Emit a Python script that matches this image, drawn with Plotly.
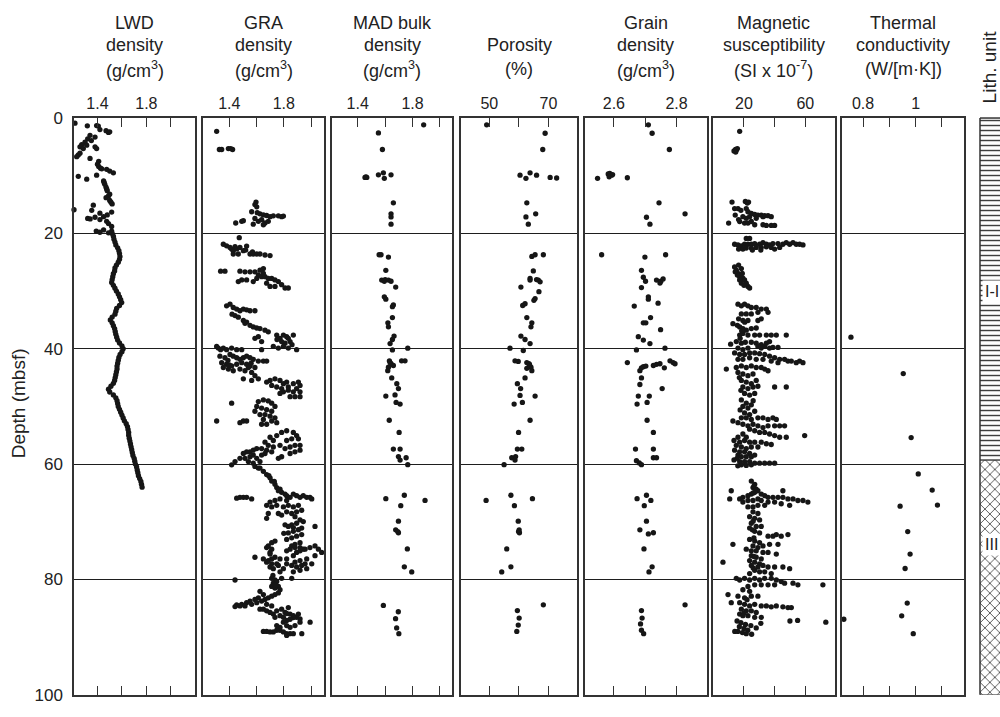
import plotly.graph_objects as go

W, H = 1000, 717
FONT = "Liberation Sans"
INK = "#222222"
DOT = "#161616"

# ---------------- data: (depth mbsf, value) ----------------
LWD = [
    (0.9, 1.216), (1.35, 1.317), (1.3, 1.393), (1.4, 1.407), (2.0, 1.42), (2.2, 1.47), (2.5, 1.49), (2.4, 1.50),
    (3.0, 1.339), (3.6, 1.32), (3.3, 1.38), (3.9, 1.35), (4.2, 1.298), (4.6, 1.271), (5.0, 1.257), (5.3, 1.284),
    (4.7, 1.312), (5.0, 1.38), (5.3, 1.393), (6.4, 1.243), (6.1, 1.257), (6.7, 1.23), (7.0, 1.339), (7.5, 1.41),
    (8.0, 1.40), (8.4, 1.41), (8.7, 1.425), (8.8, 1.435), (8.9, 1.475), (9.2, 1.50), (9.5, 1.53), (10.1, 1.243),
    (10.6, 1.312), (9.9, 1.393), (10.9, 1.45), (11.2, 1.455), (11.5, 1.46), (12.0, 1.47), (12.3, 1.475), (12.6, 1.48),
    (13.2, 1.50), (13.5, 1.49), (13.8, 1.47), (14.3, 1.50), (14.6, 1.51), (14.9, 1.52), (15.9, 1.208), (15.1, 1.366),
    (16.0, 1.353), (16.5, 1.42), (17.1, 1.45), (16.8, 1.48), (16.3, 1.516), (17.4, 1.32), (17.5, 1.34), (17.2, 1.38),
    (17.6, 1.42), (17.9, 1.475), (18.3, 1.49), (18.8, 1.516), (19.6, 1.39), (19.8, 1.42), (19.4, 1.45), (19.9, 1.49),
    (19.6, 1.516),
    (20.0, 1.52), (20.5, 1.53), (21.0, 1.535), (21.5, 1.543), (22.0, 1.55), (22.5, 1.565), (23.0, 1.575), (23.5, 1.58),
    (24.0, 1.584), (24.5, 1.58), (25.0, 1.57), (25.5, 1.555), (26.0, 1.543), (26.5, 1.54), (27.0, 1.53), (27.5, 1.525),
    (28.0, 1.52), (28.5, 1.516), (29.0, 1.53), (29.5, 1.543), (30.0, 1.555), (30.5, 1.57), (31.0, 1.58), (31.5, 1.59),
    (32.0, 1.598), (32.5, 1.58), (33.0, 1.557), (33.5, 1.55), (34.0, 1.543), (34.5, 1.52), (35.0, 1.505), (35.5, 1.52),
    (36.0, 1.53), (36.5, 1.54), (37.0, 1.545), (37.5, 1.55), (38.0, 1.557), (38.5, 1.565), (39.0, 1.58), (39.5, 1.60),
    (40.0, 1.61), (40.5, 1.60), (41.0, 1.585), (41.5, 1.575), (42.0, 1.57), (42.5, 1.565), (43.0, 1.56), (43.5, 1.56),
    (44.0, 1.555), (44.5, 1.55), (45.0, 1.545), (45.5, 1.54), (46.0, 1.53), (46.5, 1.51), (47.0, 1.49), (47.5, 1.50),
    (48.0, 1.53), (48.5, 1.55), (49.0, 1.56), (49.5, 1.565), (50.0, 1.57), (50.5, 1.58), (51.0, 1.59), (51.5, 1.60),
    (52.0, 1.61), (52.5, 1.62), (53.0, 1.635), (53.5, 1.645), (54.0, 1.65), (54.5, 1.655), (55.0, 1.655), (55.5, 1.66),
    (56.0, 1.665), (56.5, 1.67), (57.0, 1.675), (57.5, 1.68), (58.0, 1.685), (58.5, 1.69), (59.0, 1.70), (59.5, 1.705),
    (60.0, 1.71), (60.5, 1.72), (61.0, 1.725), (61.5, 1.73), (62.0, 1.735), (62.5, 1.745), (63.0, 1.755), (63.5, 1.76),
    (64.0, 1.765),
]

GRA = [
    (2.31, 1.307), (5.46, 1.327), (5.46, 1.344), (5.3, 1.393), (5.3, 1.41), (5.46, 1.424),
    (14.57, 1.596), (15.0, 1.588), (15.4, 1.601), (16.25, 1.564), (16.4, 1.605), (16.6, 1.625), (16.8, 1.65),
    (16.9, 1.674), (17.1, 1.699), (16.95, 1.723), (16.95, 1.76), (17.1, 1.784), (17.0, 1.797), (17.9, 1.686),
    (18.2, 1.662), (18.5, 1.65), (17.9, 1.613), (18.4, 1.576), (17.9, 1.491), (18.2, 1.447), (17.8, 1.503),
    (17.4, 1.588), (17.6, 1.637),
    (20.75, 1.473), (21.88, 1.356), (22.16, 1.38), (22.44, 1.405), (22.72, 1.417), (23.0, 1.429), (22.3, 1.442),
    (22.7, 1.454), (22.44, 1.478), (23.0, 1.503), (22.2, 1.527), (23.57, 1.552), (23.57, 1.576), (23.57, 1.601),
    (23.57, 1.625), (23.75, 1.662), (23.85, 1.699), (23.57, 1.429), (23.57, 1.466), (22.9, 1.52), (23.2, 1.57),
    (26.55, 1.336), (26.55, 1.368), (26.55, 1.478), (26.66, 1.515), (26.66, 1.552), (26.66, 1.588), (26.38, 1.625),
    (26.1, 1.65), (27.2, 1.613), (27.5, 1.637), (27.5, 1.662), (27.8, 1.686), (27.8, 1.711), (28.07, 1.735),
    (28.35, 1.76), (28.9, 1.784), (29.47, 1.809), (29.47, 1.833), (28.07, 1.527), (28.07, 1.491), (28.35, 1.466),
    (28.35, 1.576), (27.8, 1.601), (28.63, 1.674), (29.19, 1.699), (29.19, 1.735), (26.94, 1.65),
    (32.56, 1.38), (32.28, 1.405), (32.85, 1.429), (33.13, 1.454), (33.41, 1.478), (33.13, 1.503), (33.25, 1.527),
    (33.41, 1.552), (33.41, 1.588), (34.25, 1.442), (34.53, 1.466), (35.1, 1.503), (35.38, 1.527), (35.94, 1.552),
    (36.22, 1.576), (36.4, 1.601), (36.5, 1.625), (36.78, 1.662), (37.06, 1.686), (35.6, 1.515), (34.0, 1.42),
    (37.63, 1.748), (38.19, 1.772), (37.63, 1.797), (37.9, 1.821), (38.75, 1.846), (39.03, 1.809), (38.75, 1.784),
    (37.63, 1.87), (38.19, 1.833), (39.6, 1.797), (39.88, 1.833), (40.16, 1.894), (39.88, 1.76), (39.6, 1.723),
    (40.16, 1.637), (38.19, 1.588), (37.9, 1.613), (38.75, 1.637), (39.3, 1.86), (38.4, 1.75),
    (39.88, 1.319), (40.16, 1.336), (39.88, 1.356), (40.16, 1.38), (39.88, 1.417), (40.16, 1.454), (40.16, 1.491),
    (39.6, 1.307),
    (41.28, 1.331), (41.56, 1.368), (41.0, 1.405), (41.28, 1.429), (41.56, 1.454), (41.84, 1.478), (41.56, 1.503),
    (41.28, 1.527), (41.56, 1.552), (41.84, 1.576), (42.13, 1.613), (42.13, 1.65), (42.13, 1.674), (42.41, 1.344),
    (42.69, 1.38), (42.97, 1.417), (42.69, 1.454), (42.41, 1.491), (42.69, 1.527), (42.97, 1.552), (43.25, 1.588),
    (43.25, 1.356), (43.53, 1.393), (43.81, 1.429), (43.53, 1.478), (43.81, 1.515), (43.25, 1.54), (44.1, 1.564),
    (44.66, 1.588), (45.22, 1.613), (45.22, 1.503), (45.5, 1.564), (42.0, 1.39), (42.8, 1.40), (42.5, 1.56),
    (45.78, 1.674), (45.5, 1.699), (45.22, 1.735), (45.5, 1.772), (46.06, 1.797), (45.78, 1.821), (46.35, 1.711),
    (46.63, 1.748), (46.91, 1.784), (46.63, 1.833), (46.06, 1.87), (45.78, 1.907), (46.35, 1.919), (46.91, 1.894),
    (47.47, 1.87), (47.19, 1.833), (47.47, 1.797), (48.31, 1.846), (48.31, 1.882), (48.31, 1.919), (47.47, 1.919),
    (47.75, 1.772),
    (49.44, 1.417), (52.53, 1.307), (52.53, 1.503),
    (49.16, 1.613), (48.88, 1.65), (49.05, 1.686), (49.44, 1.711), (50.0, 1.735), (50.0, 1.601), (50.28, 1.637),
    (50.56, 1.674), (50.84, 1.711), (50.84, 1.588), (51.41, 1.625), (51.41, 1.662), (51.69, 1.699), (51.97, 1.735),
    (52.25, 1.65), (52.53, 1.711), (52.81, 1.748), (53.09, 1.674), (53.09, 1.637), (52.53, 1.527), (52.81, 1.478),
    (54.5, 1.784), (54.22, 1.821), (54.5, 1.87), (55.06, 1.894), (55.62, 1.907), (55.62, 1.858), (55.91, 1.821),
    (56.75, 1.882), (56.75, 1.919), (57.03, 1.846), (57.31, 1.809), (56.75, 1.772), (57.59, 1.919), (57.87, 1.882),
    (58.16, 1.846), (55.06, 1.748), (55.91, 1.723), (55.34, 1.699), (56.19, 1.662), (56.75, 1.686), (57.03, 1.723),
    (57.87, 1.711), (57.59, 1.674), (57.31, 1.637), (57.31, 1.601), (57.59, 1.576), (57.87, 1.552), (57.87, 1.527),
    (58.16, 1.503), (59.0, 1.515), (59.0, 1.478), (59.56, 1.442), (60.12, 1.417), (58.72, 1.552), (58.44, 1.576),
    (59.0, 1.601), (58.44, 1.637), (58.16, 1.662), (59.56, 1.625), (59.84, 1.576), (59.56, 1.54), (60.4, 1.588),
    (60.69, 1.613), (59.0, 1.76), (58.72, 1.784),
    (60.69, 1.625), (61.25, 1.65), (61.81, 1.674), (62.37, 1.699), (62.94, 1.711), (63.5, 1.735), (64.06, 1.748),
    (64.34, 1.772), (64.9, 1.784), (65.19, 1.809), (65.47, 1.821), (65.75, 1.846), (65.19, 1.87), (65.47, 1.894),
    (65.75, 1.919), (65.47, 1.943), (65.75, 1.968), (65.75, 1.992), (66.03, 2.005), (66.31, 1.821), (66.03, 1.772),
    (66.31, 1.735), (66.59, 1.699), (67.15, 1.674), (67.43, 1.711), (67.15, 1.748), (67.43, 1.797), (67.15, 1.833),
    (67.43, 1.87), (67.15, 1.907), (68.0, 1.931), (68.28, 1.894), (68.56, 1.858), (68.28, 1.821), (68.84, 1.784),
    (68.56, 1.76), (68.56, 1.686), (69.4, 1.674), (62.0, 1.69), (63.0, 1.73), (64.6, 1.76),
    (65.75, 1.478), (65.75, 1.503), (65.75, 1.527), (66.03, 1.564), (65.9, 1.454),
    (69.12, 1.882), (69.68, 1.919), (69.97, 1.943), (70.25, 1.894), (70.53, 1.858), (70.81, 1.833), (70.53, 1.809),
    (70.81, 2.029), (71.09, 1.931), (71.37, 1.907), (71.65, 1.87), (71.93, 1.833), (72.22, 1.931), (72.5, 1.894),
    (72.78, 1.858), (73.06, 1.821), (73.62, 1.919), (73.9, 1.882), (74.18, 1.858), (74.47, 1.919), (74.75, 1.943),
    (75.31, 1.894), (75.87, 1.87), (71.0, 1.87), (72.0, 1.80),
    (74.47, 1.674), (75.31, 1.699), (73.62, 1.711), (73.34, 1.735), (74.18, 1.686), (74.75, 1.711), (75.59, 1.699),
    (76.15, 1.735), (76.43, 1.711), (76.72, 1.686), (77.0, 1.674), (76.43, 1.65), (77.28, 1.711), (77.28, 1.748),
    (77.84, 1.699), (78.12, 1.723), (77.56, 1.76), (76.43, 1.772),
    (75.03, 1.821), (74.75, 1.846), (74.47, 1.882), (75.03, 1.919), (74.75, 1.956), (74.47, 1.992), (74.18, 2.029),
    (74.75, 2.054), (75.31, 2.078), (75.87, 2.029), (76.43, 1.968), (76.72, 1.919), (77.0, 1.882), (77.56, 1.858),
    (77.84, 1.894), (77.56, 1.931), (77.28, 1.956), (77.28, 2.005), (78.12, 1.968), (78.4, 1.919), (78.68, 1.87),
    (76.43, 1.821), (77.28, 1.821), (76.15, 1.588), (78.68, 1.772), (78.12, 1.797),
    (79.81, 1.711), (80.09, 1.735), (80.37, 1.748), (80.65, 1.723), (81.21, 1.711), (81.5, 1.735), (81.21, 1.76),
    (79.81, 1.784), (79.81, 1.858), (80.09, 1.442), (79.3, 1.72), (80.9, 1.74),
    (82.06, 1.625), (82.62, 1.65), (83.18, 1.613), (83.46, 1.588), (83.75, 1.552), (84.03, 1.527), (84.31, 1.491),
    (84.42, 1.454), (84.59, 1.478), (84.59, 1.515), (84.31, 1.564), (84.03, 1.601), (83.75, 1.637), (83.46, 1.662),
    (83.18, 1.686), (82.9, 1.711), (82.62, 1.735), (82.34, 1.76), (81.78, 1.772), (84.31, 1.674), (84.59, 1.711),
    (85.15, 1.625), (85.15, 1.65), (85.43, 1.674), (85.71, 1.699), (86.0, 1.723), (85.43, 1.748), (85.15, 1.784),
    (85.71, 1.809), (84.87, 1.833), (86.0, 1.846), (86.28, 1.87), (86.56, 1.894), (86.84, 1.919), (86.56, 1.797),
    (86.28, 1.772), (86.56, 1.735), (84.7, 1.442), (85.9, 1.821),
    (86.0, 1.907), (86.6, 1.87), (86.9, 1.846), (87.1, 1.821), (87.4, 1.797), (87.4, 1.993), (87.4, 1.919),
    (88.0, 1.882), (88.3, 1.846), (88.0, 1.821), (88.3, 1.772), (88.0, 1.748), (88.8, 1.772), (89.1, 1.723),
    (89.1, 1.699), (88.8, 1.748), (89.1, 1.797), (89.4, 1.821), (89.7, 1.821), (89.4, 1.846), (89.4, 1.932),
    (89.0, 1.65), (89.0, 1.674), (89.4, 1.87),
]

MAD = [
    (1.18, 1.881), (2.59, 1.551), (5.46, 1.58), (10.3, 1.466), (10.3, 1.453), (10.2, 1.46), (9.84, 1.551),
    (9.5, 1.587), (10.46, 1.594), (9.84, 1.643), (14.7, 1.66), (16.6, 1.643), (17.15, 1.643), (18.4, 1.643),
    (23.7, 1.556), (23.7, 1.57), (24.1, 1.624), (26.4, 1.605), (28.1, 1.575), (28.0, 1.60), (28.1, 1.624),
    (28.3, 1.643), (28.3, 1.594), (29.3, 1.677), (31.0, 1.594), (31.4, 1.605), (32.4, 1.66), (32.7, 1.653),
    (34.6, 1.653), (35.5, 1.62), (36.2, 1.624), (37.8, 1.665), (38.4, 1.653), (39.1, 1.636), (39.9, 1.765),
    (40.2, 1.653), (42.1, 1.631), (42.6, 1.643), (42.9, 1.66), (43.2, 1.624), (43.8, 1.619), (42.1, 1.72),
    (42.1, 1.745), (42.4, 1.636), (45.05, 1.648), (46.06, 1.685), (46.9, 1.697), (48.2, 1.605), (48.0, 1.672),
    (49.3, 1.68), (49.6, 1.709), (52.4, 1.63), (54.5, 1.702), (57.4, 1.66), (57.4, 1.709), (58.7, 1.697),
    (59.3, 1.709), (58.9, 1.753), (60.1, 1.765), (66.0, 1.605), (65.4, 1.74), (66.3, 1.891), (67.2, 1.714),
    (69.9, 1.697), (71.4, 1.677), (71.9, 1.697), (71.7, 1.692), (74.7, 1.762), (77.8, 1.74), (78.7, 1.794),
    (84.5, 1.587), (85.6, 1.696), (86.8, 1.676), (88.4, 1.684), (89.4, 1.70),
]

POROSITY = [
    (1.18, 49.1), (2.64, 68.9), (5.46, 68.1), (9.9, 60.4), (10.46, 62.4), (9.5, 63.8), (9.9, 66.0), (10.3, 70.6),
    (10.4, 72.8), (14.7, 62.7), (16.6, 65.7), (17.15, 62.4), (18.4, 63.2), (24.0, 64.4), (23.7, 65.5), (23.7, 68.3),
    (26.5, 64.9), (27.8, 63.8), (28.1, 63.8), (28.1, 66.6), (28.4, 67.2), (28.0, 66.0), (29.3, 60.7), (30.1, 66.8),
    (31.3, 65.5), (31.6, 65.1), (32.5, 61.3), (32.2, 62.1), (34.6, 62.7), (35.5, 64.4), (36.2, 64.1), (37.8, 60.7),
    (38.4, 62.1), (39.1, 63.8), (39.9, 57.0), (40.3, 61.5), (42.1, 58.7), (42.2, 59.8), (42.4, 62.7), (42.7, 63.6),
    (43.2, 64.1), (43.4, 62.7), (43.8, 64.4), (42.6, 63.4), (45.05, 62.1), (46.06, 59.5), (46.9, 60.6), (48.1, 60.4),
    (48.2, 65.5), (49.6, 58.4), (49.3, 61.2), (52.4, 63.8), (54.5, 59.9), (57.4, 59.5), (57.4, 61.0), (58.9, 57.6),
    (58.7, 58.9), (59.3, 58.7), (60.1, 55.0), (66.3, 48.9), (65.4, 57.3), (66.0, 64.6), (67.2, 58.5), (69.9, 59.8),
    (71.4, 60.1), (71.9, 60.2), (71.7, 59.9), (74.7, 55.9), (77.8, 57.3), (78.7, 54.2), (84.4, 68.3), (85.4, 59.5),
    (86.7, 60.1), (87.9, 59.8), (89.0, 59.3),
]

GRAIN = [
    (1.18, 2.71), (2.64, 2.722), (5.46, 2.777), (10.46, 2.548), (9.7, 2.582), (9.6, 2.587), (9.9, 2.593),
    (10.2, 2.585), (9.8, 2.596), (10.35, 2.643), (14.7, 2.744), (16.6, 2.827), (17.2, 2.704), (18.4, 2.715),
    (23.7, 2.561), (24.1, 2.699), (23.7, 2.765), (26.4, 2.688), (27.6, 2.694), (28.3, 2.701), (29.4, 2.688),
    (28.1, 2.736), (28.3, 2.75), (27.9, 2.757), (28.6, 2.747), (31.0, 2.71), (31.4, 2.71), (32.6, 2.665),
    (32.1, 2.741), (34.6, 2.717), (35.5, 2.694), (35.5, 2.702), (36.7, 2.749), (37.9, 2.678), (38.5, 2.694),
    (39.1, 2.715), (40.2, 2.672), (39.9, 2.763), (42.4, 2.643), (43.8, 2.683), (43.3, 2.688), (43.1, 2.694),
    (43.0, 2.702), (42.9, 2.726), (42.7, 2.736), (42.6, 2.747), (43.3, 2.761), (42.1, 2.779), (42.4, 2.789),
    (42.6, 2.795), (45.05, 2.688), (46.2, 2.683), (46.9, 2.754), (48.2, 2.678), (48.2, 2.713), (49.6, 2.674),
    (49.3, 2.706), (52.4, 2.706), (54.5, 2.726), (57.4, 2.669), (57.4, 2.726), (58.9, 2.726), (58.9, 2.736),
    (59.4, 2.672), (59.8, 2.681), (60.1, 2.688), (66.0, 2.674), (65.4, 2.704), (66.3, 2.718), (67.2, 2.697),
    (69.9, 2.704), (71.4, 2.683), (72.1, 2.71), (71.9, 2.726), (74.7, 2.696), (77.8, 2.722), (78.7, 2.712),
    (85.4, 2.688), (84.4, 2.827), (86.7, 2.69), (87.7, 2.685), (88.8, 2.688), (89.4, 2.695),
]

MAGSUS = [
    (2.31, 17.2), (5.46, 14.5), (5.6, 15.0), (5.3, 15.7), (5.7, 13.5), (5.9, 14.6),
    (14.57, 12.2), (14.45, 20.9), (14.74, 22.2), (14.57, 23.0), (15.69, 13.9), (15.69, 16.1), (15.69, 21.5),
    (16.25, 22.6), (16.54, 24.8), (16.71, 27.0), (16.82, 29.1), (16.82, 31.3), (17.1, 32.4), (16.93, 33.5),
    (16.93, 35.7), (17.1, 37.8), (17.1, 19.3), (17.38, 21.5), (17.1, 23.7), (17.38, 28.0), (16.82, 14.3),
    (18.22, 10.0), (17.94, 17.2), (18.22, 20.4), (18.22, 22.6), (17.94, 24.8), (18.5, 27.0), (18.5, 32.4),
    (18.62, 34.6), (18.62, 37.8), (18.62, 40.0), (16.0, 18.0), (17.6, 16.5),
    (20.87, 21.5), (20.87, 23.7), (21.88, 13.9), (22.0, 16.1), (22.16, 18.3), (21.88, 20.4), (21.88, 22.6),
    (21.88, 24.8), (21.77, 27.0), (21.88, 30.2), (21.6, 32.4), (21.88, 34.6), (22.0, 36.7), (21.77, 38.9),
    (21.77, 42.2), (21.88, 45.4), (21.6, 47.6), (21.88, 49.8), (21.6, 52.0), (21.88, 54.1), (21.88, 56.3),
    (22.0, 58.5), (22.72, 16.5), (22.72, 19.3), (22.55, 21.5), (22.55, 24.8), (22.44, 28.0), (22.44, 31.3),
    (22.33, 34.6), (22.44, 37.8), (22.72, 40.0), (22.44, 43.3), (22.9, 31.0), (22.9, 25.5),
    (25.82, 13.9), (26.38, 15.0), (26.94, 16.1), (26.1, 18.3), (27.5, 17.2), (27.78, 19.3), (28.07, 20.4),
    (28.63, 21.5), (29.19, 22.6), (29.47, 23.7), (28.63, 18.3), (26.94, 18.9), (28.07, 17.2), (27.22, 15.7),
    (26.66, 14.3), (25.5, 16.5), (29.0, 20.0),
    (32.28, 16.1), (32.56, 18.3), (32.28, 20.4), (32.56, 22.6), (32.85, 24.8), (32.85, 28.0), (33.13, 31.3),
    (33.13, 34.6), (33.69, 35.7), (33.69, 29.1), (33.97, 24.8), (33.97, 21.5), (33.97, 18.3), (34.81, 16.5),
    (35.1, 19.3), (35.1, 22.6), (35.1, 29.1), (34.81, 31.3), (35.66, 12.8), (35.94, 15.7), (36.22, 17.2),
    (36.5, 19.3), (36.78, 21.5), (36.5, 24.8), (36.4, 28.0), (37.63, 17.2), (37.35, 19.3), (37.63, 22.6),
    (37.63, 27.0), (37.63, 30.2), (37.63, 34.6), (37.63, 37.8), (37.63, 41.1), (37.63, 47.6), (39.2, 11.3),
    (38.75, 15.0), (39.03, 18.3), (38.87, 20.9), (38.87, 24.8), (39.03, 28.0), (39.31, 31.3), (39.03, 34.6),
    (38.75, 36.7), (39.88, 16.1), (40.16, 19.3), (39.88, 22.6), (39.6, 29.1), (39.88, 31.3), (39.6, 33.5),
    (39.88, 36.7), (39.77, 38.9), (39.77, 42.2), (38.2, 17.5), (36.9, 18.5), (35.4, 20.5),
    (40.72, 13.9), (41.0, 17.2), (41.0, 20.4), (40.72, 23.7), (40.72, 27.0), (40.86, 30.2), (41.0, 33.5),
    (41.28, 36.7), (41.56, 40.0), (41.84, 43.3), (41.84, 46.5), (42.13, 48.7), (42.13, 50.9), (42.41, 54.1),
    (42.13, 56.3), (42.41, 58.5), (42.41, 42.2), (42.13, 37.8), (41.84, 32.4), (41.84, 28.0), (41.56, 23.7),
    (41.84, 19.3), (41.84, 16.1), (43.53, 8.5), (43.25, 15.0), (42.97, 18.3), (43.25, 21.5), (42.97, 24.8),
    (43.25, 28.0), (43.25, 31.3), (43.53, 33.5), (43.81, 35.7), (44.1, 16.1), (44.38, 19.3), (44.66, 22.6),
    (44.38, 25.9), (45.5, 18.3), (45.78, 21.5), (46.06, 24.8), (45.5, 28.0), (46.63, 19.3), (46.91, 22.6),
    (46.63, 25.9), (46.5, 29.1), (46.63, 40.0), (46.63, 47.6), (47.75, 20.4), (48.03, 23.7), (47.75, 27.0),
    (45.0, 17.0), (47.2, 18.0),
    (48.88, 18.3), (49.44, 21.5), (49.72, 24.8), (50.0, 19.3), (50.28, 22.6), (51.12, 20.4), (51.41, 23.7),
    (50.84, 27.0), (51.97, 18.3), (51.97, 21.5), (52.25, 24.8), (51.97, 29.1), (51.97, 32.4), (52.25, 35.7),
    (51.97, 38.9), (52.25, 41.1), (52.53, 12.8), (52.81, 16.1), (53.09, 19.3), (53.37, 22.6), (53.09, 25.9),
    (53.37, 29.1), (53.66, 32.4), (53.37, 35.7), (53.37, 40.0), (53.37, 43.3), (53.37, 46.5), (53.94, 23.7),
    (54.22, 27.0), (54.5, 30.2), (54.5, 33.5), (54.78, 36.7), (55.06, 40.0), (55.34, 43.3), (55.34, 47.6),
    (55.06, 59.6), (54.78, 19.3), (55.34, 21.5), (55.34, 16.1), (55.91, 13.5), (56.19, 17.2), (55.91, 20.4),
    (56.19, 23.7), (56.19, 27.0), (56.19, 31.3), (56.47, 34.6), (56.6, 37.8), (56.75, 15.0), (57.03, 18.3),
    (57.31, 21.5), (57.03, 24.8), (57.03, 29.1), (50.6, 17.5), (49.0, 26.0),
    (57.59, 13.9), (57.87, 17.2), (57.87, 20.4), (58.16, 23.7), (58.44, 16.1), (58.72, 18.3), (58.72, 21.5),
    (58.72, 24.8), (58.44, 27.0), (59.28, 13.5), (59.56, 17.2), (59.56, 20.4), (59.56, 23.7), (59.84, 27.0),
    (59.84, 30.2), (59.84, 33.5), (59.84, 36.7), (59.84, 40.0), (60.12, 18.3), (60.23, 21.5), (60.12, 24.8),
    (59.0, 15.5), (60.3, 16.0),
    (62.94, 24.8), (63.5, 27.0), (64.06, 25.9), (64.34, 28.0), (64.62, 29.1), (64.9, 27.0), (65.19, 24.8),
    (65.47, 22.6), (65.75, 19.3), (66.03, 17.2), (65.19, 31.3), (65.47, 33.5), (65.75, 35.7), (65.75, 38.9),
    (65.75, 42.2), (65.75, 45.4), (66.03, 48.7), (66.03, 52.0), (66.31, 55.2), (66.31, 58.5), (66.59, 61.7),
    (66.03, 29.1), (66.31, 25.9), (66.31, 22.6), (66.59, 19.3), (64.62, 11.7), (66.03, 10.7), (64.62, 45.4),
    (66.31, 31.3), (66.59, 35.7), (66.59, 40.0), (66.87, 44.3), (67.15, 49.8), (67.15, 33.5), (67.15, 29.1),
    (67.43, 25.9), (67.43, 22.6), (63.8, 26.5), (65.0, 26.0),
    (68.28, 25.9), (68.56, 29.1), (69.12, 23.7), (69.4, 27.0), (69.68, 30.2), (70.25, 24.8), (70.81, 28.0),
    (70.81, 31.3), (71.09, 23.7), (71.65, 27.0), (71.93, 30.2), (72.5, 35.7), (72.5, 38.9), (72.22, 41.1),
    (72.5, 44.3), (72.22, 48.7), (73.9, 12.8), (73.06, 23.7), (73.34, 27.0), (73.62, 30.2), (74.18, 25.9),
    (74.47, 29.1), (74.18, 32.4), (73.9, 36.7), (73.9, 42.2), (74.75, 21.5), (75.03, 24.8), (75.03, 28.0),
    (75.31, 32.4), (75.31, 35.7), (75.59, 41.1), (75.87, 24.8), (76.15, 28.0), (76.43, 31.3), (76.72, 23.7),
    (77.0, 27.0), (77.28, 30.2), (77.0, 6.3), (77.56, 24.8), (77.84, 29.1), (77.56, 32.4), (77.84, 35.7),
    (77.84, 40.0), (77.84, 45.4), (78.12, 49.8), (78.4, 27.0), (78.68, 30.2), (78.68, 33.5), (78.97, 37.8),
    (78.97, 23.7), (69.9, 26.0), (71.4, 25.5), (72.8, 26.5), (76.0, 26.5), (78.0, 26.0),
    (79.81, 15.0), (80.09, 17.2), (79.81, 20.4), (80.09, 23.7), (79.81, 27.0), (80.09, 30.2), (79.81, 33.5),
    (79.81, 37.8), (80.09, 41.1), (80.37, 44.3), (80.65, 46.5), (80.65, 52.0), (80.93, 55.2), (80.93, 71.5),
    (80.93, 27.0), (80.93, 31.3), (80.93, 35.7), (80.93, 40.0), (81.21, 22.6), (81.78, 19.3), (82.06, 23.7),
    (82.62, 9.6), (82.9, 16.1), (83.18, 20.4), (82.9, 24.8), (82.9, 29.1), (84.03, 11.7), (84.03, 17.2),
    (84.31, 20.4), (84.59, 23.7), (84.31, 27.0), (84.59, 31.3), (84.59, 34.6), (84.74, 37.8), (84.59, 41.1),
    (84.74, 45.4), (84.87, 48.7), (84.87, 50.9), (85.15, 18.3), (85.43, 21.5), (85.43, 24.8), (85.71, 28.0),
    (86.0, 17.2), (86.28, 19.3), (86.28, 22.6), (86.56, 27.0), (86.56, 31.3), (83.5, 22.0), (85.8, 20.0),
    (87.2, 50.0), (87.1, 55.0), (87.4, 73.4), (87.2, 15.5), (87.5, 18.0), (87.8, 21.0), (88.0, 24.5),
    (88.2, 17.0), (88.5, 20.0), (88.8, 22.5), (89.0, 16.0), (89.2, 19.0), (89.4, 21.5), (89.5, 25.0),
    (88.4, 28.0), (87.6, 31.0), (89.0, 14.0),
]

THERMAL = [
    (38.0, 0.754), (44.3, 0.953), (55.4, 0.983), (61.7, 1.01), (64.5, 1.063), (67.1, 1.083), (67.3, 0.941),
    (71.7, 0.97), (75.6, 0.979), (78.1, 0.96), (84.1, 0.968), (86.3, 0.947), (86.9, 0.727), (89.4, 0.991),
]

# lithologic units: (name, top depth, bottom depth, label depth)
LITH_UNITS = [("I-I", 0.0, 59.3, 30.0), ("III", 59.3, 100.0, 74.0)]

# column headers (one entry per text line)
TITLES = [
    ["LWD", "density", "(g/cm<sup>3</sup>)"],
    ["GRA", "density", "(g/cm<sup>3</sup>)"],
    ["MAD bulk", "density", "(g/cm<sup>3</sup>)"],
    ["", "Porosity", "(%)"],
    ["Grain", "density", "(g/cm<sup>3</sup>)"],
    ["Magnetic", "susceptibility", "(SI x 10<sup>-7</sup>)"],
    ["Thermal", "conductivity", "(W/[m·K])"],
]

# labelled x-axis ticks per column
TICKVALS = [[1.4, 1.8], [1.4, 1.8], [1.4, 1.8], [50, 70], [2.6, 2.8], [20, 60], [0.8, 1.0]]
TICKTEXT = [["1.4", "1.8"], ["1.4", "1.8"], ["1.4", "1.8"], ["50", "70"], ["2.6", "2.8"], ["20", "60"], ["0.8", "1"]]
# unlabelled x-axis ticks per column
MINOR_TICKVALS = [[1.6, 2.0], [1.6, 2.0], [1.6, 2.0], [60], [2.7], [40], [0.9, 1.1]]
DEPTH_TICKS = [0, 20, 40, 60, 80, 100]

SERIES = [LWD, GRA, MAD, POROSITY, GRAIN, MAGSUS, THERMAL]

# ---------------- layout geometry (pixels) ----------------
X_RANGES = [[1.208, 2.2], [1.209, 2.095], [1.21, 2.09], [40.3, 79.8], [2.507, 2.897], [-0.2, 79.2], [0.72, 1.184]]
X_DOMAINS_PX = [(74, 195.3), (203.3, 324), (331.7, 452.3), (460.7, 577.3), (584.7, 707), (713, 834.7), (842, 964)]
TOP_PX, BOT_PX = 112, 704.5
LITH_PX = (980, 1000)
TITLE_LINES_PX = (14, 37, 62)


def fx(p):
    return p / W


def fy(p):
    return 1 - p / H


y_dom = [fy(BOT_PX), fy(TOP_PX)]
fig = go.Figure()
layout = dict(
    width=W, height=H, margin=dict(l=0, r=0, t=0, b=0),
    paper_bgcolor="white", plot_bgcolor="white", showlegend=False,
    font=dict(family=FONT, color=INK), barmode="overlay",
)
annotations = []
shapes = []
tick_style = dict(ticks="inside", ticklen=9, tickwidth=1.3, tickcolor="#333")

for i, data in enumerate(SERIES):
    n = i + 1
    sfx = "" if n == 1 else str(n)
    depths = [d for d, _ in data]
    vals = [v for _, v in data]
    fig.add_trace(go.Scatter(
        x=vals, y=depths, mode="markers", xaxis=f"x{sfx}", yaxis=f"y{sfx}",
        marker=dict(size=5.3, color=DOT, line=dict(width=0)), cliponaxis=False,
        hoverinfo="skip",
    ))
    x0, x1 = X_DOMAINS_PX[i]
    layout[f"xaxis{sfx}"] = dict(
        domain=[fx(x0), fx(x1)], range=X_RANGES[i], anchor=f"y{sfx}", side="top",
        tickmode="array", tickvals=TICKVALS[i], ticktext=TICKTEXT[i], **tick_style,
        minor=dict(tickmode="array", tickvals=MINOR_TICKVALS[i], showgrid=False, **tick_style),
        showline=True, linecolor="#333", linewidth=1.5, mirror="ticks",
        showgrid=False, zeroline=False, tickfont=dict(size=16, color=INK, family=FONT),
        ticklabelstandoff=1, fixedrange=True,
    )
    layout[f"yaxis{sfx}"] = dict(
        domain=y_dom, range=[100, 0], anchor=f"x{sfx}", tickvals=DEPTH_TICKS,
        showticklabels=(n == 1), ticks="", showline=True, linecolor="#333", linewidth=1.5,
        mirror=True, showgrid=True, gridcolor="#1e1e1e", gridwidth=1.2, zeroline=False,
        tickfont=dict(size=17, color=INK, family=FONT), ticklabelstandoff=6, fixedrange=True,
    )
    cx = (x0 + x1) / 2
    for line_y, txt in zip(TITLE_LINES_PX, TITLES[i]):
        if not txt:
            continue
        annotations.append(dict(
            text=txt, x=fx(cx), y=fy(line_y), xref="paper", yref="paper",
            xanchor="center", yanchor="middle", showarrow=False,
            font=dict(size=18, color=INK, family=FONT),
        ))

# lithology column
lx0, lx1 = LITH_PX
layout["xaxis8"] = dict(domain=[fx(lx0), fx(lx1)], range=[0, 1], anchor="y8", visible=False, fixedrange=True)
layout["yaxis8"] = dict(domain=y_dom, range=[100, 0], anchor="x8", visible=False, fixedrange=True)
patterns = [dict(shape="-", size=5, solidity=0.28), dict(shape="x", size=7, solidity=0.22)]
for (name, top, bot, lab), pat in zip(LITH_UNITS, patterns):
    fig.add_trace(go.Bar(
        x=[0.5], y=[bot - top], base=[top], width=[1.0], xaxis="x8", yaxis="y8",
        marker=dict(color="white", line=dict(width=0),
                    pattern=dict(fillmode="replace", fgcolor="#3a3a3a", bgcolor="white", **pat)),
        hoverinfo="skip",
    ))
    annotations.append(dict(
        text=name, x=fx(lx0 + 2), y=lab, xref="paper", yref="y8", xanchor="left", yanchor="middle",
        showarrow=False, bgcolor="white", borderpad=2,
        font=dict(size=16, color=INK, family=FONT),
    ))
    shapes.append(dict(type="line", xref="paper", yref="y8", x0=fx(lx0), x1=fx(lx1), y0=bot, y1=bot,
                       line=dict(color="#333", width=1.3)))
shapes.append(dict(type="line", xref="paper", yref="paper", x0=fx(lx0), x1=fx(lx0), y0=fy(TOP_PX), y1=fy(BOT_PX),
                   line=dict(color="#333", width=1.5)))
shapes.append(dict(type="line", xref="paper", yref="paper", x0=fx(lx0), x1=fx(lx1), y0=fy(TOP_PX), y1=fy(TOP_PX),
                   line=dict(color="#333", width=1.5)))

annotations.append(dict(
    text="Lith. unit", x=fx(989), y=fy(60), xref="paper", yref="paper", xanchor="center", yanchor="middle",
    textangle=-90, showarrow=False, font=dict(size=19, color=INK, family=FONT),
))
annotations.append(dict(
    text="Depth (mbsf)", x=fx(18), y=fy(405), xref="paper", yref="paper", xanchor="center", yanchor="middle",
    textangle=-90, showarrow=False, font=dict(size=19, color=INK, family=FONT),
))

layout["annotations"] = annotations
layout["shapes"] = shapes
fig.update_layout(**layout)
fig.write_html("out.html")
